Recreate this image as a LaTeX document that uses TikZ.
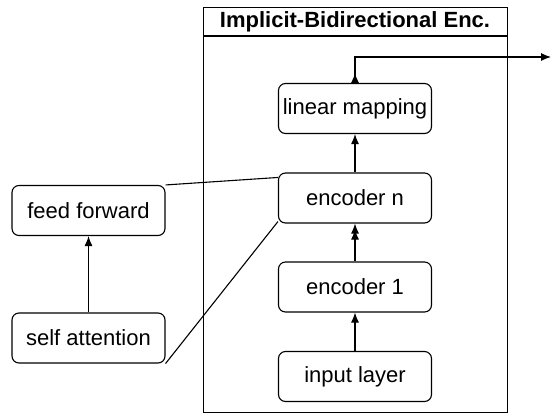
\documentclass[tikz,border=0pt]{standalone}
\usepackage{fontspec}
\setmainfont{Liberation Sans}
\usetikzlibrary{arrows.meta}
\begin{document}
\begin{tikzpicture}[x=1pt,y=-1pt,
  box/.style={draw, line width=1.1pt, rounded corners=7pt, minimum width=153pt, minimum height=50pt, inner sep=0pt, font=\fontsize{22}{26}\selectfont},
  link/.style={line width=1.1pt},
  arr/.style={line width=1.1pt, -{Latex[length=10pt,width=8pt]}}]
\useasboundingbox (0,0) rectangle (552,416);
% container
\node[draw, line width=1.1pt, minimum width=304pt, minimum height=405pt, inner sep=0pt, anchor=north west] (cont) at (203,7) {};
\coordinate (tl) at (203,36);
\coordinate (tr) at (507,36);
\draw[link] (tl) -- (tr);
\node[font=\fontsize{22}{26}\selectfont\bfseries] (title) at (355,21.5) {Implicit-Bidirectional Enc.};
% nodes
\node[box] (lin) at (355,108.5) {linear mapping};
\node[box] (encn) at (355,198) {encoder n};
\node[box] (enc1) at (355,287) {encoder 1};
\node[box] (inp) at (355,376.5) {input layer};
\node[box] (ff) at (88.5,210.5) {feed forward};
\node[box] (sa) at (88.5,338) {self attention};
\coordinate (out) at (551,57);
% connectors
\draw[arr] (inp.north) -- (enc1.south);
\draw[line width=1.1pt, -{Latex[length=10pt,width=8pt,sep=-4pt]Latex[length=10pt,width=8pt]}] (enc1.north) -- (encn.south);
\draw[arr] (encn.north) -- (lin.south);
\draw[arr] (sa.north) -- (ff.south);
\draw[arr] (lin.north) -- ++(0,-10);
\draw[arr] (lin.north) |- (out);
\draw[link] (ff.north east) -- ([yshift=-5pt]encn.north west);
\draw[link] (sa.south east) -- ([yshift=2pt]encn.south west);
\end{tikzpicture}
\end{document}
